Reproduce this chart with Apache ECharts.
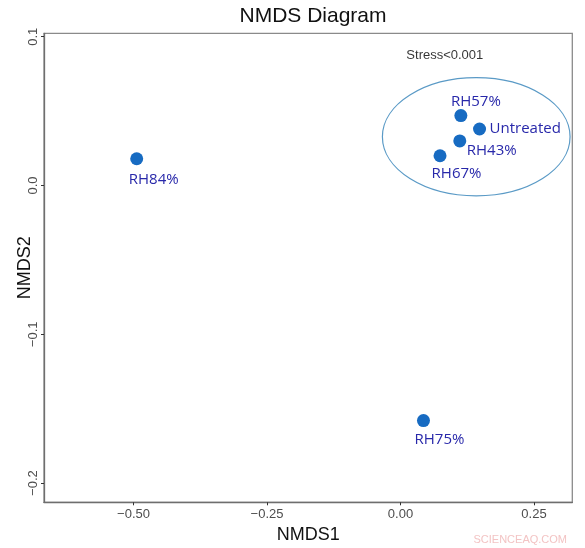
<!DOCTYPE html>
<html>
<head>
<meta charset="utf-8">
<script src="https://cdn.jsdelivr.net/npm/echarts@6/dist/echarts.min.js"></script>
<style>html,body{margin:0;padding:0;background:#fff}#c{width:585px;height:548px}</style>
</head>
<body>
<div id="c"></div>
<script>
// ---- data ----
const samples = ['Untreated', 'RH43%', 'RH57%', 'RH67%', 'RH75%', 'RH84%'];
const nmds1 = [0.148, 0.111, 0.113, 0.074, 0.043, -0.494];
const nmds2 = [0.038, 0.030, 0.047, 0.020, -0.158, 0.018];
const xTicks = [-0.5, -0.25, 0, 0.25];
const yTicks = [-0.2, -0.1, 0, 0.1];
const xRange = [-0.6676, 0.3217];
const yRange = [-0.2129, 0.1023];
// ellipse: centre x, centre y, radius x, radius y (data units)
const ellipse = [0.1418, 0.0328, 0.1757, 0.0397];
const stressText = 'Stress<0.001';
const stressPos = [0.083, 0.0877];

// label placement (style)
const labelStyle = {
  'Untreated': {offset: [10, 0], align: 'left'},
  'RH43%': {offset: [7, 10], align: 'left'},
  'RH57%': {offset: [15, -14], align: 'center'},
  'RH67%': {offset: [16.5, 18], align: 'center'},
  'RH75%': {offset: [16, 19], align: 'center'},
  'RH84%': {offset: [17, 21], align: 'center'}
};

const fmtMinus = v => String(v).replace('-', '\u2212');

const chart = echarts.init(document.getElementById('c'), null, {renderer: 'canvas'});
const pts = samples.map((s, i) => ({
  name: s,
  value: [nmds1[i], nmds2[i]],
  label: {
    show: true, position: 'inside', formatter: s,
    offset: labelStyle[s].offset, align: labelStyle[s].align, verticalAlign: 'middle',
    color: '#2828aa', fontSize: 15, fontWeight: 500, fontFamily: 'Open Sans'
  }
}));

chart.setOption({
  animation: false,
  title: {
    text: 'NMDS Diagram', left: 308, top: 1, textAlign: 'center',
    textStyle: {fontSize: 21, fontWeight: 'normal', color: '#111', fontFamily: 'Liberation Sans'}
  },
  grid: {left: 44, right: 12.7, top: 33.3, bottom: 45.7, outerBoundsMode: 'none', containLabel: false},
  xAxis: {
    type: 'value', min: xRange[0], max: xRange[1],
    name: 'NMDS1', nameLocation: 'middle', nameGap: 24, nameMoveOverlap: false,
    nameTextStyle: {fontSize: 18, color: '#111', fontFamily: 'Liberation Sans'},
    splitLine: {show: false},
    axisLine: {show: true, onZero: false, lineStyle: {color: '#6e6e6e', width: 1.3}},
    axisTick: {show: true, customValues: xTicks, length: 3, lineStyle: {color: '#333'}},
    axisLabel: {
      customValues: xTicks, margin: 6, color: '#4d4d4d', fontSize: 13, fontFamily: 'Liberation Sans',
      formatter: v => fmtMinus(v.toFixed(2))
    }
  },
  yAxis: {
    type: 'value', min: yRange[0], max: yRange[1],
    name: 'NMDS2', nameLocation: 'middle', nameGap: 10, nameRotate: 90, nameMoveOverlap: false,
    nameTextStyle: {fontSize: 18, color: '#111', fontFamily: 'Liberation Sans'},
    splitLine: {show: false},
    axisLine: {show: true, onZero: false, lineStyle: {color: '#6e6e6e', width: 1.3}},
    axisTick: {show: true, customValues: yTicks, length: 3, lineStyle: {color: '#333'}},
    axisLabel: {
      customValues: yTicks, margin: 4, rotate: 90, color: '#4d4d4d', fontSize: 13, fontFamily: 'Liberation Sans',
      formatter: v => fmtMinus(v.toFixed(1))
    }
  },
  graphic: [
    {type: 'rect', shape: {x: 44, y: 33.3, width: 528.3, height: 469}, style: {fill: 'none', stroke: '#8a8a8a', lineWidth: 1.3}, silent: true, z: 0},
    {type: 'text', right: 18, bottom: 3, style: {text: 'SCIENCEAQ.COM', fill: '#f3c4c4', fontSize: 11, fontFamily: 'Liberation Sans'}}
  ],
  series: [
    {
      type: 'custom', silent: true, z: 1,
      data: [ellipse],
      renderItem: (params, api) => {
        const c = api.coord([api.value(0), api.value(1)]);
        const sz = api.size([api.value(2), api.value(3)]);
        return {
          type: 'ellipse',
          shape: {cx: c[0], cy: c[1], rx: sz[0], ry: sz[1]},
          style: {fill: 'none', stroke: '#5a9ac6', lineWidth: 1.2}
        };
      },
      encode: {x: 0, y: 1}
    },
    {
      type: 'scatter', z: 3, symbolSize: 13,
      itemStyle: {color: '#176bc2', opacity: 1},
      data: pts
    },
    {
      type: 'scatter', symbolSize: 0, silent: true,
      data: [{value: stressPos}],
      label: {show: true, position: 'inside', formatter: stressText, color: '#000', fontSize: 13, fontFamily: 'Liberation Sans'}
    }
  ]
});
</script>
</body>
</html>
